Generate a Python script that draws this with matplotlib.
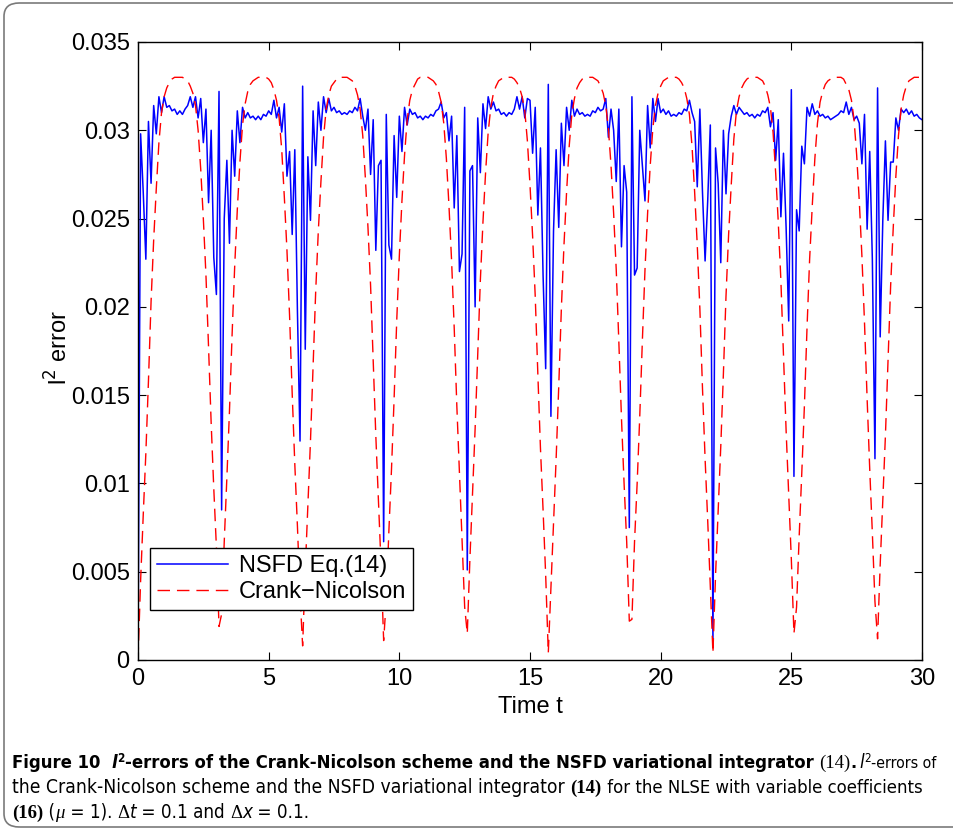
"""l2-error of NSFD variational integrator vs Crank-Nicolson (Figure 10)."""
import numpy as np
import matplotlib
matplotlib.use("Agg")
import matplotlib.pyplot as plt
from matplotlib.patches import FancyBboxPatch

# --- data (dt = 0.1, t = 0 .. 30) ---
T_STEP = 0.1

nsfd_err = [
    0.0000, 0.0298, 0.0265, 0.0227, 0.0305, 0.0270, 0.0314, 0.0298, 0.0319, 0.0310,
    0.0319, 0.0313, 0.0314, 0.0311, 0.0312, 0.0309, 0.0311, 0.0309, 0.0312, 0.0314,
    0.0319, 0.0313, 0.0319, 0.0307, 0.0318, 0.0293, 0.0312, 0.0259, 0.0300, 0.0228,
    0.0207, 0.0322, 0.0085, 0.0250, 0.0283, 0.0236, 0.0300, 0.0274, 0.0311, 0.0293,
    0.0313, 0.0307, 0.0310, 0.0307, 0.0308, 0.0306, 0.0308, 0.0306, 0.0309, 0.0308,
    0.0311, 0.0309, 0.0317, 0.0307, 0.0313, 0.0299, 0.0315, 0.0274, 0.0288, 0.0241,
    0.0289, 0.0198, 0.0124, 0.0325, 0.0176, 0.0285, 0.0249, 0.0311, 0.0280, 0.0316,
    0.0300, 0.0319, 0.0310, 0.0318, 0.0311, 0.0313, 0.0310, 0.0311, 0.0309, 0.0310,
    0.0309, 0.0311, 0.0310, 0.0313, 0.0311, 0.0318, 0.0308, 0.0300, 0.0312, 0.0275,
    0.0306, 0.0232, 0.0280, 0.0283, 0.0067, 0.0309, 0.0235, 0.0227, 0.0297, 0.0262,
    0.0308, 0.0288, 0.0313, 0.0303, 0.0312, 0.0309, 0.0310, 0.0307, 0.0308, 0.0306,
    0.0308, 0.0307, 0.0309, 0.0308, 0.0311, 0.0312, 0.0316, 0.0307, 0.0310, 0.0294,
    0.0308, 0.0256, 0.0297, 0.0220, 0.0230, 0.0313, 0.0051, 0.0277, 0.0280, 0.0200,
    0.0307, 0.0276, 0.0315, 0.0301, 0.0319, 0.0312, 0.0316, 0.0311, 0.0312, 0.0309,
    0.0310, 0.0308, 0.0310, 0.0309, 0.0312, 0.0319, 0.0312, 0.0319, 0.0307, 0.0318,
    0.0317, 0.0287, 0.0313, 0.0252, 0.0290, 0.0218, 0.0165, 0.0326, 0.0138, 0.0243,
    0.0289, 0.0245, 0.0304, 0.0280, 0.0313, 0.0300, 0.0317, 0.0308, 0.0312, 0.0309,
    0.0310, 0.0308, 0.0309, 0.0308, 0.0311, 0.0310, 0.0313, 0.0311, 0.0312, 0.0318,
    0.0296, 0.0312, 0.0300, 0.0271, 0.0312, 0.0234, 0.0280, 0.0265, 0.0075, 0.0319,
    0.0218, 0.0222, 0.0300, 0.0280, 0.0260, 0.0314, 0.0290, 0.0318, 0.0305, 0.0318,
    0.0310, 0.0312, 0.0309, 0.0311, 0.0308, 0.0309, 0.0308, 0.0310, 0.0309, 0.0312,
    0.0311, 0.0317, 0.0310, 0.0305, 0.0268, 0.0312, 0.0265, 0.0226, 0.0260, 0.0303,
    0.0009, 0.0290, 0.0270, 0.0225, 0.0300, 0.0264, 0.0298, 0.0308, 0.0314, 0.0309,
    0.0313, 0.0311, 0.0309, 0.0310, 0.0308, 0.0309, 0.0307, 0.0309, 0.0308, 0.0311,
    0.0310, 0.0313, 0.0302, 0.0310, 0.0283, 0.0306, 0.0251, 0.0287, 0.0245, 0.0192,
    0.0323, 0.0104, 0.0255, 0.0243, 0.0291, 0.0281, 0.0313, 0.0308, 0.0315, 0.0309,
    0.0311, 0.0308, 0.0309, 0.0307, 0.0308, 0.0306, 0.0307, 0.0308, 0.0309, 0.0311,
    0.0310, 0.0316, 0.0309, 0.0313, 0.0306, 0.0308, 0.0304, 0.0281, 0.0309, 0.0244,
    0.0288, 0.0227, 0.0114, 0.0324, 0.0183, 0.0249, 0.0294, 0.0249, 0.0282, 0.0282,
    0.0307, 0.0300, 0.0312, 0.0310, 0.0312, 0.0309, 0.0311, 0.0308, 0.0309, 0.0307,
    0.0306,
]

cn_err = [
    0.0000, 0.0045, 0.0082, 0.0117, 0.0158, 0.0203, 0.0238, 0.0267, 0.0293, 0.0310,
    0.0319, 0.0324, 0.0327, 0.0329, 0.0330, 0.0330, 0.0330, 0.0330, 0.0329, 0.0328,
    0.0325, 0.0321, 0.0314, 0.0300, 0.0278, 0.0250, 0.0218, 0.0177, 0.0134, 0.0097,
    0.0064, 0.0019, 0.0026, 0.0067, 0.0103, 0.0141, 0.0184, 0.0223, 0.0255, 0.0282,
    0.0303, 0.0315, 0.0322, 0.0326, 0.0328, 0.0329, 0.0330, 0.0330, 0.0330, 0.0330,
    0.0329, 0.0327, 0.0323, 0.0317, 0.0307, 0.0289, 0.0262, 0.0232, 0.0195, 0.0151,
    0.0111, 0.0076, 0.0037, 0.0008, 0.0051, 0.0088, 0.0124, 0.0166, 0.0209, 0.0243,
    0.0271, 0.0296, 0.0312, 0.0320, 0.0325, 0.0327, 0.0329, 0.0330, 0.0330, 0.0330,
    0.0330, 0.0329, 0.0328, 0.0325, 0.0320, 0.0312, 0.0297, 0.0273, 0.0245, 0.0212,
    0.0170, 0.0127, 0.0091, 0.0054, 0.0011, 0.0034, 0.0073, 0.0108, 0.0148, 0.0192,
    0.0229, 0.0260, 0.0286, 0.0306, 0.0317, 0.0323, 0.0326, 0.0329, 0.0330, 0.0330,
    0.0330, 0.0330, 0.0329, 0.0328, 0.0326, 0.0322, 0.0316, 0.0304, 0.0284, 0.0257,
    0.0226, 0.0188, 0.0144, 0.0106, 0.0069, 0.0030, 0.0015, 0.0057, 0.0094, 0.0131,
    0.0173, 0.0215, 0.0248, 0.0276, 0.0299, 0.0313, 0.0321, 0.0325, 0.0328, 0.0329,
    0.0330, 0.0330, 0.0330, 0.0330, 0.0329, 0.0327, 0.0324, 0.0319, 0.0311, 0.0294,
    0.0269, 0.0240, 0.0206, 0.0162, 0.0120, 0.0085, 0.0048, 0.0004, 0.0041, 0.0079,
    0.0114, 0.0155, 0.0199, 0.0235, 0.0265, 0.0291, 0.0309, 0.0318, 0.0324, 0.0327,
    0.0329, 0.0330, 0.0330, 0.0330, 0.0330, 0.0329, 0.0328, 0.0325, 0.0321, 0.0314,
    0.0301, 0.0280, 0.0253, 0.0221, 0.0180, 0.0137, 0.0100, 0.0067, 0.0022, 0.0023,
    0.0067, 0.0100, 0.0138, 0.0181, 0.0221, 0.0253, 0.0280, 0.0301, 0.0314, 0.0321,
    0.0325, 0.0328, 0.0329, 0.0330, 0.0330, 0.0330, 0.0330, 0.0329, 0.0327, 0.0324,
    0.0318, 0.0309, 0.0291, 0.0265, 0.0235, 0.0199, 0.0154, 0.0114, 0.0079, 0.0041,
    0.0004, 0.0048, 0.0085, 0.0121, 0.0162, 0.0206, 0.0241, 0.0269, 0.0295, 0.0311,
    0.0319, 0.0324, 0.0327, 0.0329, 0.0330, 0.0330, 0.0330, 0.0330, 0.0329, 0.0328,
    0.0325, 0.0320, 0.0313, 0.0299, 0.0276, 0.0248, 0.0215, 0.0173, 0.0130, 0.0094,
    0.0057, 0.0015, 0.0030, 0.0070, 0.0106, 0.0144, 0.0188, 0.0227, 0.0257, 0.0284,
    0.0304, 0.0316, 0.0322, 0.0326, 0.0328, 0.0329, 0.0330, 0.0330, 0.0330, 0.0330,
    0.0329, 0.0326, 0.0323, 0.0317, 0.0306, 0.0286, 0.0260, 0.0229, 0.0191, 0.0148,
    0.0108, 0.0072, 0.0033, 0.0012, 0.0054, 0.0091, 0.0127, 0.0170, 0.0212, 0.0245,
    0.0274, 0.0297, 0.0312, 0.0320, 0.0325, 0.0328, 0.0329, 0.0330, 0.0330, 0.0330,
    0.0330,
]

x_ticks = [0, 5, 10, 15, 20, 25, 30]
y_ticks = [0, 0.005, 0.01, 0.015, 0.02, 0.025, 0.03, 0.035]
y_ticklabels = ["0", "0.005", "0.01", "0.015", "0.02", "0.025", "0.03", "0.035"]

W, H = 954, 836
SANS = ["Liberation Sans", "DejaVu Sans"]
COND = ["DejaVu Sans"]
SERIF = ["Liberation Serif", "DejaVu Serif"]

fig = plt.figure(figsize=(W / 100, H / 100), dpi=100)
fig.patch.set_facecolor("white")

# rounded frame around the whole figure panel
frame = FancyBboxPatch((4 / W, 9 / H), 1.2, (H - 9 - 3) / H,
                       boxstyle="round,pad=0,rounding_size=0.016",
                       transform=fig.transFigure, fill=False,
                       edgecolor="#7a7a7a", linewidth=1.2, clip_on=False)
fig.patches.append(frame)

ax = fig.add_axes([138 / W, 1 - 660 / H, 784 / W, 618 / H])
t = np.arange(len(nsfd_err)) * T_STEP
ax.plot(t, nsfd_err, color="#0000ff", linewidth=1.1, label="NSFD Eq.(14)")
ax.plot(t, cn_err, color="#ff0000", linewidth=1.0, linestyle=(0, (9, 5)),
        label="Crank\u2212Nicolson")

ax.set_xlim(0, 30)
ax.set_ylim(0, 0.035)
ax.set_xticks(x_ticks)
ax.set_yticks(y_ticks)
ax.set_yticklabels(y_ticklabels)
ax.tick_params(direction="in", length=6, width=0.8, top=True, right=True,
               labelsize=17, pad=6)
for lab in ax.get_xticklabels() + ax.get_yticklabels():
    lab.set_family(SANS)
for sp in ax.spines.values():
    sp.set_linewidth(1.0)

ax.set_xlabel("Time t", fontsize=17, family=SANS)
ax.xaxis.set_label_coords(0.5, -0.058)
ax.xaxis.label.set_va("top")
ax.set_ylabel(r"l$^2$ error", fontsize=17, family=SANS)
ax.yaxis.set_label_coords(-0.084, 0.505)

leg = ax.legend(loc="lower left", bbox_to_anchor=(12 / 784, 50 / 618),
                borderaxespad=0, fancybox=False, framealpha=1,
                edgecolor="black", prop={"family": SANS, "size": 17},
                handlelength=3.0, handletextpad=0.45, borderpad=0.3,
                labelspacing=0.15)
leg.get_frame().set_linewidth(1.0)

# --- caption, drawn piece by piece ---
renderer = fig.canvas.get_renderer()


def caption_line(x_px, y_px, pieces):
    x = x_px / W
    for text, kw in pieces:
        kw = dict(kw)
        dy = kw.pop("dy", 0)
        tx = fig.text(x, (H - y_px + dy) / H, text, va="baseline", ha="left", **kw)
        bb = tx.get_window_extent(renderer)
        x += bb.width / W


CAP = 13.5
bold = dict(family=COND, weight="bold", size=13.2, stretch="condensed")
reg = dict(family=COND, size=CAP, stretch="condensed")
ital = dict(family=COND, size=CAP, style="italic", stretch="condensed")
serif = dict(family=SERIF, size=CAP)
serif_b = dict(family=SERIF, size=CAP, weight="bold")
serif_i = dict(family=SERIF, size=CAP, style="italic")
sup = CAP * 0.62

caption_line(12, 768, [
    ("Figure 10  ", bold),
    ("l", dict(bold, style="italic")),
    ("2", dict(bold, size=sup, dy=6)),
    ("-errors of the Crank-Nicolson scheme and the NSFD variational integrator ", bold),
    ("(14)", serif),
    (".", bold),
    (" ", dict(reg, size=CAP * 0.5)),
    ("l", ital),
    ("2", dict(reg, size=sup, dy=6)),
    ("-errors of", dict(reg, size=CAP * 0.85)),
])
caption_line(12, 793, [
    ("the Crank-Nicolson scheme and the NSFD variational integrator ", dict(reg, size=CAP * 1.03)),
    ("(14)", serif_b),
    (" for the NLSE with variable coefficients", dict(reg, size=CAP * 0.98)),
])
caption_line(12, 818, [
    ("(16)", serif_b),
    (" (", reg),
    ("\u03bc", serif_i),
    (" = 1). ", reg),
    ("\u0394", serif),
    ("t", ital),
    (" = 0.1 and ", reg),
    ("\u0394", serif),
    ("x", ital),
    (" = 0.1.", reg),
])

fig.savefig("out.png", dpi=100)
